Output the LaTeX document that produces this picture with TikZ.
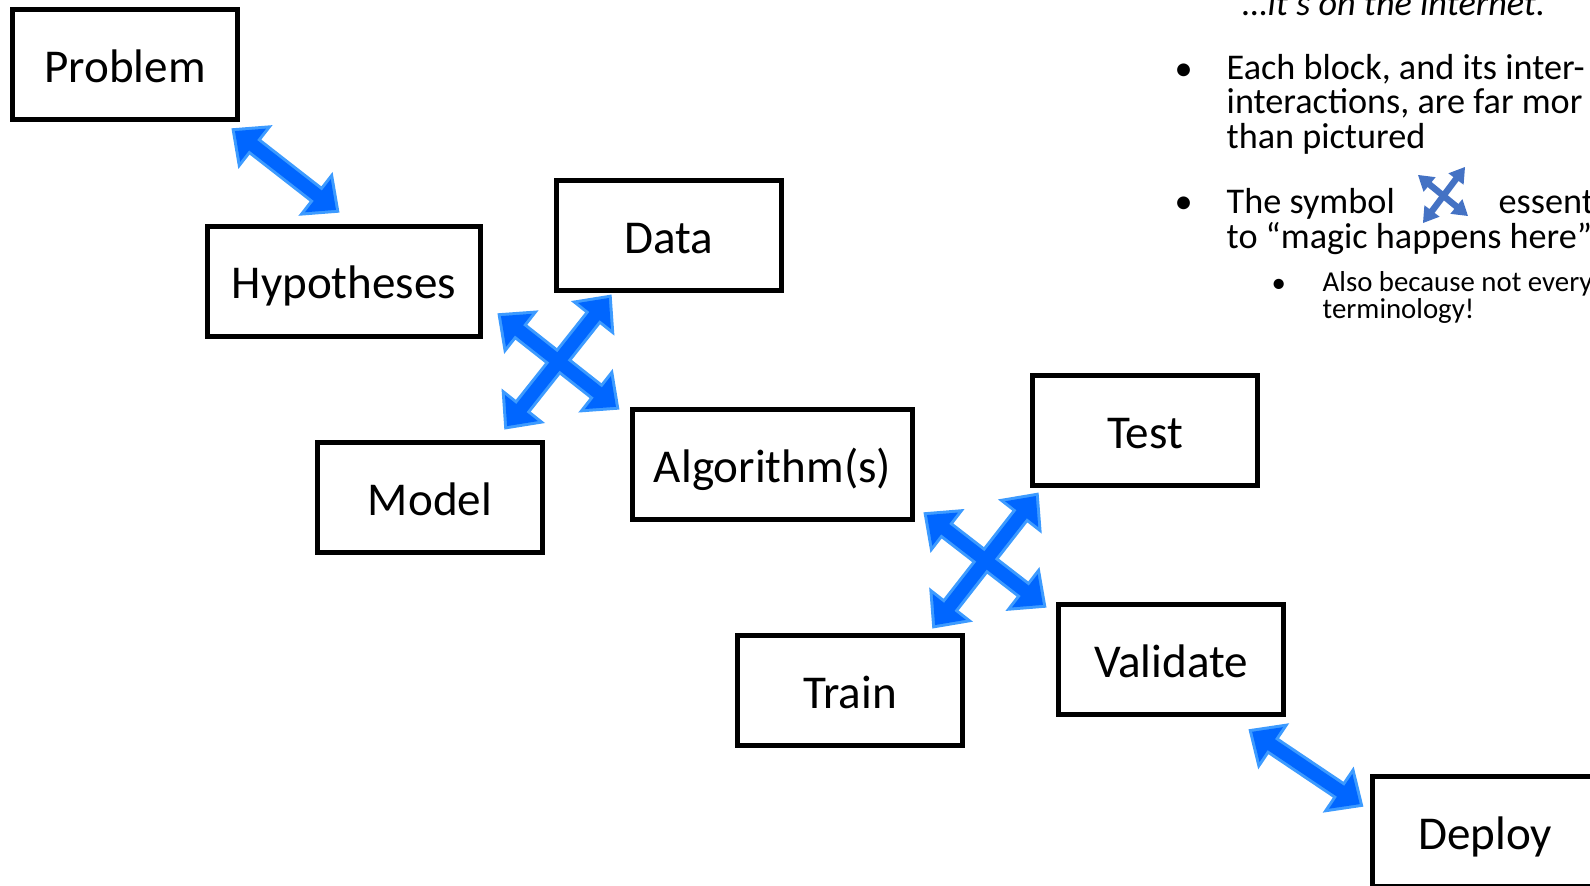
\documentclass[tikz,border=0pt]{standalone}
\usepackage{fontspec}
\setmainfont{Carlito}
\usepackage{tikz}
\usetikzlibrary{calc}
\usepackage{xcolor}
\definecolor{arrowfill}{RGB}{0,102,255}
\definecolor{arrowedge}{RGB}{61,155,255}
\definecolor{symbolblue}{RGB}{68,114,196}

\newcommand\arrowsize[4]{\def\arrshaft{#1}\def\arrwide{#2}\def\arrhead{#3}\def\arrtip{#4}}
\newcommand\blockarrow[3]{%
  \path let \p1=($(#3)-(#2)$) in
    \pgfextra{\pgfmathparse{atan2(\y1,\x1)}\xdef\arrangle{\pgfmathresult}%
      \pgfmathparse{veclen(\x1,\y1)}\xdef\arrlength{\pgfmathresult pt}};
  \path[#1, shift={(#2)}, rotate=\arrangle]
    (\arrtip,0) -- ({\arrtip+\arrhead},\arrwide) -- ({\arrtip+\arrhead},\arrshaft)
    -- ({\arrlength-\arrtip-\arrhead},\arrshaft) -- ({\arrlength-\arrtip-\arrhead},\arrwide)
    -- ({\arrlength-\arrtip},0)
    -- ({\arrlength-\arrtip-\arrhead},-\arrwide) -- ({\arrlength-\arrtip-\arrhead},-\arrshaft)
    -- ({\arrtip+\arrhead},-\arrshaft) -- ({\arrtip+\arrhead},-\arrwide) -- cycle;
}

\begin{document}
\begin{tikzpicture}[
  box/.style={draw, line width=0.05cm, minimum width=2.25cm, minimum height=1.1cm, inner sep=0pt,
    font=\fontsize{13.4}{16}\selectfont, text height=13pt, text depth=2.8pt},
  arrowline/.style={draw=arrowedge, line width=0.06cm, line join=miter},
  arrowbody/.style={fill=arrowfill},
  symbolarrow/.style={fill=symbolblue},
  note/.style={anchor=base west, inner sep=0pt, align=left, font=\fontsize{10.3}{9.7}\selectfont},
  subnote/.style={note, font=\fontsize{8.2}{7.4}\selectfont}]
\useasboundingbox (0,0) rectangle (15.9,-8.86);
\clip (0,0) rectangle (15.9,-8.86);

\node[box] (problem)    at (1.25,-0.645)  {Problem};
\node[box, minimum width=2.73cm] (hypotheses) at (3.44,-2.81) {Hypotheses};
\node[box] (data)       at (6.69,-2.355)  {Data};
\node[box] (model)      at (4.30,-4.975)  {Model};
\node[box, minimum width=2.80cm] (algorithm) at (7.725,-4.645) {Algorithm(s)};
\node[box] (test)       at (11.45,-4.305) {Test};
\node[box] (validate)   at (11.71,-6.595) {Validate};
\node[box] (train)      at (8.50,-6.905)  {Train};
\node[box] (deploy)     at (14.85,-8.315) {Deploy};

\coordinate (ph1) at (2.31,-1.28);  \coordinate (ph2) at (3.40,-2.13);
\coordinate (x1a) at (4.97,-3.13);  \coordinate (x1b) at (6.20,-4.10);
\coordinate (x1c) at (5.04,-4.30);  \coordinate (x1d) at (6.12,-2.94);
\coordinate (x2a) at (9.23,-5.12);  \coordinate (x2b) at (10.47,-6.08);
\coordinate (x2c) at (9.32,-6.29);  \coordinate (x2d) at (10.39,-4.92);
\coordinate (vd1) at (12.48,-7.29); \coordinate (vd2) at (13.64,-8.07);
\coordinate (sy1) at (14.18,-1.75); \coordinate (sy2) at (14.68,-2.16);
\coordinate (sy3) at (14.23,-2.23); \coordinate (sy4) at (14.65,-1.67);

\arrowsize{0.065cm}{0.21cm}{0.23cm}{0.05cm}
\foreach \a/\b in {ph1/ph2, x1a/x1b, x1c/x1d, x2a/x2b, x2c/x2d, vd1/vd2}
  {\blockarrow{arrowline}{\a}{\b}}
\foreach \a/\b in {ph1/ph2, x1a/x1b, x1c/x1d, x2a/x2b, x2c/x2d, vd1/vd2}
  {\blockarrow{arrowbody}{\a}{\b}}

\arrowsize{0.032cm}{0.095cm}{0.15cm}{0cm}
\blockarrow{symbolarrow}{sy1}{sy2}
\blockarrow{symbolarrow}{sy3}{sy4}

\node[note, font=\fontsize{10.3}{9.7}\selectfont\itshape] (internet) at (12.42,-0.15) {…it’s on the internet.};
\node[note] (bullet1) at (11.74,-0.80) {•};
\node[note] (blocks)  at (12.26,-1.48) {Each block, and its inter-\\interactions, are far mor\\than pictured};
\node[note] (bullet2) at (11.74,-2.13) {•};
\node[note] (symbol)  at (12.26,-2.48) {The symbol\\to “magic happens here”};
\node[note] (essent)  at (14.98,-2.13) {essent};
\node[subnote] (bullet3) at (12.71,-2.92) {•};
\node[subnote] (also)    at (13.22,-3.18) {Also because not every\\terminology!};
\end{tikzpicture}
\end{document}
